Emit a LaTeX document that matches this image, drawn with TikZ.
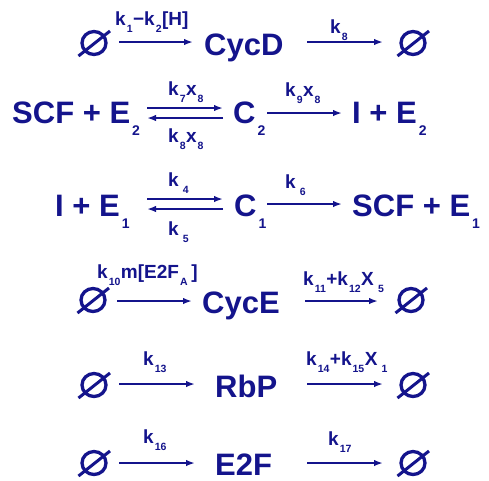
\documentclass[tikz,border=0pt]{standalone}
\usepackage{fontspec}
\setmainfont{Liberation Sans}
\usetikzlibrary{shapes.geometric,arrows.meta}
\definecolor{ink}{RGB}{20,20,140}
\newcommand\lsub[1]{\kern1pt\raisebox{-7pt}{\fontsize{10.5}{10.5}\selectfont #1}\kern0.5pt}
\newcommand\msub[1]{\kern2pt\raisebox{-12pt}{\fontsize{14}{14}\selectfont #1}}
\newcommand\nullset[3]{\node[es] (#1) at (#2,#3) {}; \draw[esl] ([shift={(-15.5,13)}]#1.center) -- ([shift={(16,-12)}]#1.center);}
\begin{document}
\begin{tikzpicture}[x=1pt,y=-1pt,
  main/.style={inner sep=0pt, anchor=base west, text=ink, text depth=0pt, font=\bfseries\fontsize{31}{31}\selectfont},
  lab/.style={inner sep=0pt, anchor=base west, text=ink, font=\bfseries\fontsize{19}{19}\selectfont},
  arr/.style={draw=ink, line width=2pt, -{Latex[length=9pt,width=6.5pt]}},
  es/.style={shape=ellipse, draw=ink, line width=3.3pt, minimum width=24pt, minimum height=23pt, inner sep=0pt},
  esl/.style={draw=ink, line width=3pt}]
\fill[white] (0,0) rectangle (489,480);
\useasboundingbox (0,0) rectangle (489,480);

% Row 1
\nullset{n1a}{94}{43}
\nullset{n1b}{413}{43}
\node[main] (cycd) at (204,55) {CycD};
\coordinate (r1a) at (119,42); \coordinate (r1b) at (193,42);
\coordinate (r1c) at (307,42); \coordinate (r1d) at (383,42);
\draw[arr] (r1a) -- (r1b);
\draw[arr] (r1c) -- (r1d);
\node[lab] (l1a) at (115,25) {k\lsub{1}−k\lsub{2}[H]};
\node[lab] (l1b) at (330,33) {k\lsub{8}};

% Row 2
\node[main] (scf2) at (12,123) {SCF + E\msub{2}};
\node[main] (c2) at (233,123) {C\msub{2}};
\node[main] (ie2) at (352,123) {I + E\msub{2}};
\coordinate (r2a) at (147,108); \coordinate (r2b) at (223,108);
\coordinate (r2c) at (223,118); \coordinate (r2d) at (147,118);
\coordinate (r2e) at (267,113); \coordinate (r2f) at (342,113);
\draw[arr] (r2a) -- (r2b);
\draw[arr] (r2c) -- (r2d);
\draw[arr] (r2e) -- (r2f);
\node[lab] (l2a) at (168,95) {k\lsub{7}x\lsub{8}};
\node[lab] (l2b) at (168,142) {k\lsub{8}x\lsub{8}};
\node[lab] (l2c) at (285,96) {k\lsub{9}x\lsub{8}};

% Row 3
\node[main] (ie1) at (55,216) {I + E\msub{1}};
\node[main] (c1) at (234,216) {C\msub{1}};
\node[main] (scf1) at (352,216) {SCF + E\msub{1}};
\coordinate (r3a) at (147,199); \coordinate (r3b) at (223,199);
\coordinate (r3c) at (223,209); \coordinate (r3d) at (147,209);
\coordinate (r3e) at (267,204); \coordinate (r3f) at (342,204);
\draw[arr] (r3a) -- (r3b);
\draw[arr] (r3c) -- (r3d);
\draw[arr] (r3e) -- (r3f);
\node[lab] (l3a) at (168,186) {k\,\lsub{4}};
\node[lab] (l3b) at (168,235) {k\,\lsub{5}};
\node[lab] (l3c) at (285,188) {k\,\lsub{6}};

% Row 4
\nullset{n4a}{93}{300}
\nullset{n4b}{411}{300}
\node[main] (cyce) at (202,313) {CycE};
\coordinate (r4a) at (117,301); \coordinate (r4b) at (192,301);
\coordinate (r4c) at (305,301); \coordinate (r4d) at (378,301);
\draw[arr] (r4a) -- (r4b);
\draw[arr] (r4c) -- (r4d);
\node[lab] (l4a) at (97,278) {k\lsub{10}m[E2F\lsub{A}\,]};
\node[lab] (l4b) at (303,285) {k\lsub{11}+k\lsub{12}X\,\lsub{5}};

% Row 5
\nullset{n5a}{94}{385}
\nullset{n5b}{413}{385}
\node[main] (rbp) at (215,397) {RbP};
\coordinate (r5a) at (119,384); \coordinate (r5b) at (195,384);
\coordinate (r5c) at (307,384); \coordinate (r5d) at (383,384);
\draw[arr] (r5a) -- (r5b);
\draw[arr] (r5c) -- (r5d);
\node[lab] (l5a) at (143,365) {k\lsub{13}};
\node[lab] (l5b) at (306,365) {k\lsub{14}+k\lsub{15}X\,\lsub{1}};

% Row 6
\nullset{n6a}{94}{463}
\nullset{n6b}{413}{463}
\node[main] (e2f) at (215,475) {E2F};
\coordinate (r6a) at (119,463); \coordinate (r6b) at (195,463);
\coordinate (r6c) at (307,463); \coordinate (r6d) at (383,463);
\draw[arr] (r6a) -- (r6b);
\draw[arr] (r6c) -- (r6d);
\node[lab] (l6a) at (143,443) {k\lsub{16}};
\node[lab] (l6b) at (328,445) {k\lsub{17}};
\end{tikzpicture}
\end{document}
